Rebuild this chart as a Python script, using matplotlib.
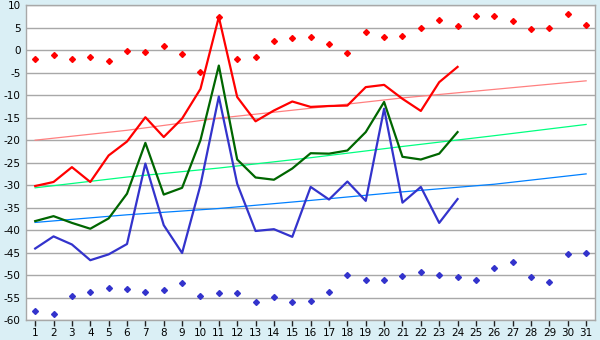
import matplotlib
matplotlib.use("Agg")
import matplotlib.pyplot as plt
import numpy as np

days = list(range(1, 32))
line_days = list(range(1, 25))

red_line = [-30.2, -29.3, -26.0, -29.3, -23.4, -20.3, -14.9, -19.3, -15.2, -8.6,
            7.4, -10.4, -15.8, -13.4, -11.4, -12.6, -12.4, -12.3, -8.2, -7.7,
            -10.8, -13.5, -7.1, -3.7]
green_line = [-38.0, -36.9, -38.4, -39.7, -37.4, -31.9, -20.6, -32.1, -30.6, -20.0,
              -3.4, -24.3, -28.3, -28.8, -26.3, -22.9, -23.0, -22.3, -18.2, -11.5,
              -23.7, -24.3, -23.0, -18.2]
blue_line = [-44.1, -41.4, -43.2, -46.7, -45.4, -43.1, -25.2, -38.9, -45.1, -30.0,
             -10.3, -29.7, -40.2, -39.8, -41.5, -30.4, -33.2, -29.2, -33.5, -13.0,
             -33.9, -30.4, -38.4, -33.1]

red_points = [-2.0, -1.1, -2.0, -1.4, -2.4, -0.2, -0.4, 0.9, -0.8, -4.9,
              7.4, -2.0, -1.6, 2.0, 2.7, 2.9, 1.3, -0.7, 4.0, 2.9,
              3.1, 4.9, 6.7, 5.3, 7.6, 7.6, 6.4, 4.7, 4.9, 8.0, 5.6]
blue_points = [-58.1, -58.6, -54.7, -53.7, -52.9, -53.2, -53.7, -53.4, -51.7, -54.7,
               -53.9, -54.1, -55.9, -54.8, -55.9, -55.7, -53.7, -50.1, -51.0, -51.2,
               -50.3, -49.4, -49.9, -50.5, -51.0, -48.5, -47.0, -50.5, -51.6, -45.4, -45.2]

trend_days = [1, 6, 11, 16, 21, 26, 31]
red_trend = [-20.0, -17.8, -15.1, -12.9, -10.6, -8.7, -6.8]
green_trend = [-30.6, -28.2, -26.2, -23.9, -21.4, -19.0, -16.5]
blue_trend = [-38.3, -36.6, -35.2, -33.4, -31.5, -29.8, -27.5]

y_ticks = list(range(-60, 11, 5))

bg = "#daeff5"
fig = plt.figure(figsize=(6.0, 3.4), dpi=100, facecolor=bg)
ax = fig.add_axes([26 / 600, 1 - 320 / 340, (595.3 - 26) / 600, (320 - 5.3) / 340])
ax.set_facecolor("white")

for v in y_ticks:
    ax.axhline(v, color="#a8a8a8", lw=1.0, zorder=1)

ax.plot(trend_days, red_trend, color="#ff8080", lw=0.9, zorder=2)
ax.plot(trend_days, green_trend, color="#00ff80", lw=0.9, zorder=2)
ax.plot(trend_days, blue_trend, color="#0080ff", lw=0.9, zorder=2)

ax.plot(line_days, red_line, color="#ff0000", lw=1.6, zorder=3)
ax.plot(line_days, green_line, color="#006600", lw=1.6, zorder=3)
ax.plot(line_days, blue_line, color="#3333cc", lw=1.6, zorder=3)

ax.plot(days, red_points, linestyle="none", marker="D", markersize=3.0,
        color="#ff0000", zorder=4)
ax.plot(days, blue_points, linestyle="none", marker="D", markersize=3.0,
        color="#3333cc", zorder=4)

ax.set_xlim(0.5, 31.5)
ax.set_ylim(-60, 10)
ax.set_xticks(days)
ax.set_xticklabels([str(d) for d in days], fontsize=7.5)
ax.set_yticks(y_ticks)
ax.set_yticklabels([str(v) for v in y_ticks], fontsize=7.5)
ax.tick_params(axis="y", length=0, pad=4)
ax.tick_params(axis="x", length=4, width=1, color="#222222", pad=2)
for s in ax.spines.values():
    s.set_color("#a8a8a8")
    s.set_linewidth(1.0)

fig.savefig("out.png", dpi=100, facecolor=bg)
